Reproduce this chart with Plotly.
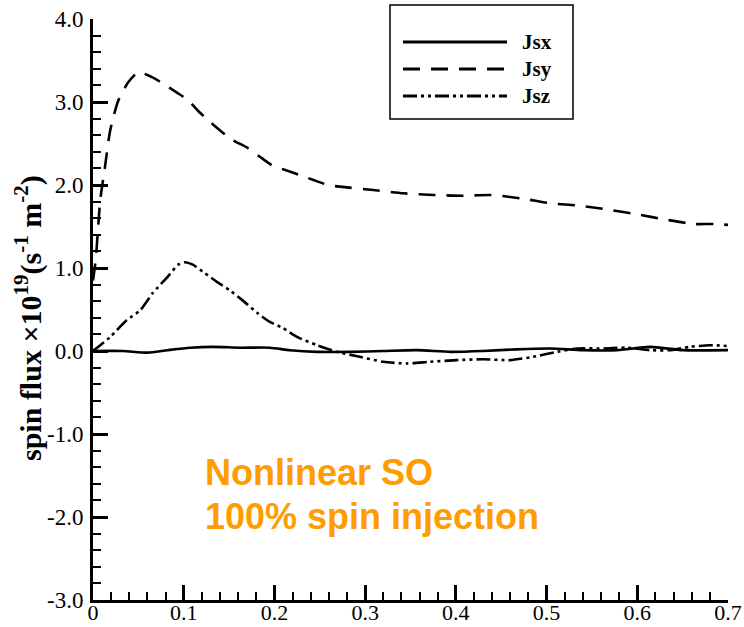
import plotly.graph_objects as go

# Spin flux components versus position
jsx_x = [0.0, 0.033, 0.06, 0.082, 0.107, 0.132, 0.162, 0.195, 0.217, 0.247, 0.283,
         0.32, 0.357, 0.394, 0.43, 0.467, 0.504, 0.54, 0.578, 0.614, 0.65, 0.7]
jsx_y = [0.0, 0.0, -0.02, 0.01, 0.04, 0.05, 0.04, 0.04, 0.01, -0.01, -0.01,
         0.0, 0.01, -0.01, 0.0, 0.02, 0.03, 0.01, 0.01, 0.05, 0.01, 0.01]

jsy_x = [0.0, 0.003, 0.008, 0.013, 0.019, 0.028, 0.039, 0.05, 0.065, 0.076, 0.093,
         0.105, 0.118, 0.129, 0.143, 0.154, 0.17, 0.184, 0.197, 0.212, 0.228, 0.243,
         0.259, 0.272, 0.309, 0.342, 0.375, 0.408, 0.438, 0.471, 0.504, 0.537, 0.57,
         0.603, 0.633, 0.662, 0.684, 0.7]
jsy_y = [0.85, 1.1, 1.82, 2.2, 2.66, 3.02, 3.24, 3.36, 3.3, 3.23, 3.11,
         3.02, 2.87, 2.76, 2.63, 2.54, 2.45, 2.34, 2.24, 2.18, 2.12, 2.06,
         2.0, 1.98, 1.94, 1.90, 1.88, 1.87, 1.88, 1.84, 1.78, 1.75, 1.70,
         1.64, 1.58, 1.53, 1.53, 1.52]

jsz_x = [0.0, 0.019, 0.037, 0.052, 0.066, 0.082, 0.094, 0.101, 0.11, 0.123, 0.137,
         0.151, 0.165, 0.181, 0.195, 0.209, 0.225, 0.247, 0.269, 0.294, 0.32, 0.346,
         0.371, 0.401, 0.43, 0.46, 0.485, 0.512, 0.534, 0.563, 0.589, 0.614, 0.636,
         0.658, 0.68, 0.7]
jsz_y = [0.0, 0.17, 0.37, 0.49, 0.70, 0.89, 1.04, 1.07, 1.04, 0.94, 0.83,
         0.73, 0.61, 0.46, 0.35, 0.28, 0.17, 0.07, -0.01, -0.07, -0.13, -0.15,
         -0.13, -0.11, -0.10, -0.11, -0.07, -0.01, 0.03, 0.03, 0.04, 0.01, 0.01,
         0.05, 0.07, 0.06]

series_names = ["Jsx", "Jsy", "Jsz"]
x_ticks = [0, 0.1, 0.2, 0.3, 0.4, 0.5, 0.6, 0.7]
x_labels = ["0", "0.1", "0.2", "0.3", "0.4", "0.5", "0.6", "0.7"]
y_ticks = [-3, -2, -1, 0, 1, 2, 3, 4]
y_labels = ["-3.0", "-2.0", "-1.0", "0.0", "1.0", "2.0", "3.0", "4.0"]

W, H = 744, 627
ML, MR, MT, MB = 93, 16, 19, 27
PW, PH = W - ML - MR, H - MT - MB


def px(xp):
    return (xp - ML) / PW


def py(yp):
    return (H - MB - yp) / PH


DASH_Y = "17px,11px"
DASH_Z = "14px,4px,3px,4px,3px,4px"
styles = [dict(dash="solid"), dict(dash=DASH_Y), dict(dash=DASH_Z)]

fig = go.Figure()
for (xs, ys), st, name in zip([(jsx_x, jsx_y), (jsy_x, jsy_y), (jsz_x, jsz_y)],
                               styles, series_names):
    fig.add_trace(go.Scatter(
        x=xs, y=ys, mode="lines", name=name, showlegend=False,
        line=dict(color="black", width=2.6, shape="spline", smoothing=0.6, **st),
    ))

serif = "Liberation Serif"
axis_common = dict(
    showline=True, linecolor="black", linewidth=3, mirror=False,
    ticks="inside", ticklen=15, tickwidth=2.5, tickcolor="black",
    showgrid=False, zeroline=False, automargin=False,
)

fig.update_xaxes(range=[0, 0.7], tickmode="array", tickvals=x_ticks, ticktext=x_labels,
                 ticklabelstandoff=-9,
                 tickfont=dict(family=serif, size=22, color="black"),
                 minor=dict(dtick=0.02, ticks="inside", ticklen=8, tickwidth=1.5,
                            tickcolor="black", showgrid=False),
                 **axis_common)
fig.update_yaxes(range=[-3, 4], tickmode="array", tickvals=y_ticks, ticktext=y_labels,
                 ticklabelstandoff=2,
                 tickfont=dict(family=serif, size=23, color="black"),
                 minor=dict(dtick=0.2, ticks="inside", ticklen=8, tickwidth=1.5,
                            tickcolor="black", showgrid=False),
                 **axis_common)

# Framed key with long line samples
shapes = [dict(type="rect", xref="paper", yref="paper",
               x0=px(390), x1=px(573), y0=py(119), y1=py(5),
               line=dict(color="black", width=1.5), fillcolor="white", layer="above")]
annotations = []
for i, (name, st) in enumerate(zip(series_names, styles)):
    yc = py(42 + 27 * i)
    shapes.append(dict(type="line", xref="paper", yref="paper",
                       x0=px(403), x1=px(507), y0=yc, y1=yc, layer="above",
                       line=dict(color="black", width=3, **st)))
    annotations.append(dict(text="<b>" + name + "</b>", xref="paper", yref="paper",
                            x=px(520), y=yc, xanchor="left", yanchor="middle",
                            showarrow=False,
                            font=dict(family=serif, size=21, color="black")))

annotations.append(dict(
    text="<b>spin flux ×10<sup>19</sup>(s<sup>-1</sup> m<sup>-2</sup>)</b>",
    xref="paper", yref="paper", x=px(28), y=py(318), textangle=-90,
    xanchor="center", yanchor="middle", showarrow=False,
    font=dict(family=serif, size=30, color="black")))

orange = "#FF9C00"
for txt, yc in [("Nonlinear SO", 472), ("100% spin injection", 516)]:
    annotations.append(dict(text="<b>" + txt + "</b>", xref="paper", yref="paper",
                            x=px(203), y=py(yc), xanchor="left", yanchor="middle",
                            showarrow=False,
                            font=dict(family="Liberation Sans", size=36, color=orange)))

fig.update_layout(
    width=W, height=H,
    margin=dict(l=ML, r=MR, t=MT, b=MB),
    paper_bgcolor="white", plot_bgcolor="white",
    showlegend=False,
    shapes=shapes, annotations=annotations,
)

fig.write_html("out.html")
